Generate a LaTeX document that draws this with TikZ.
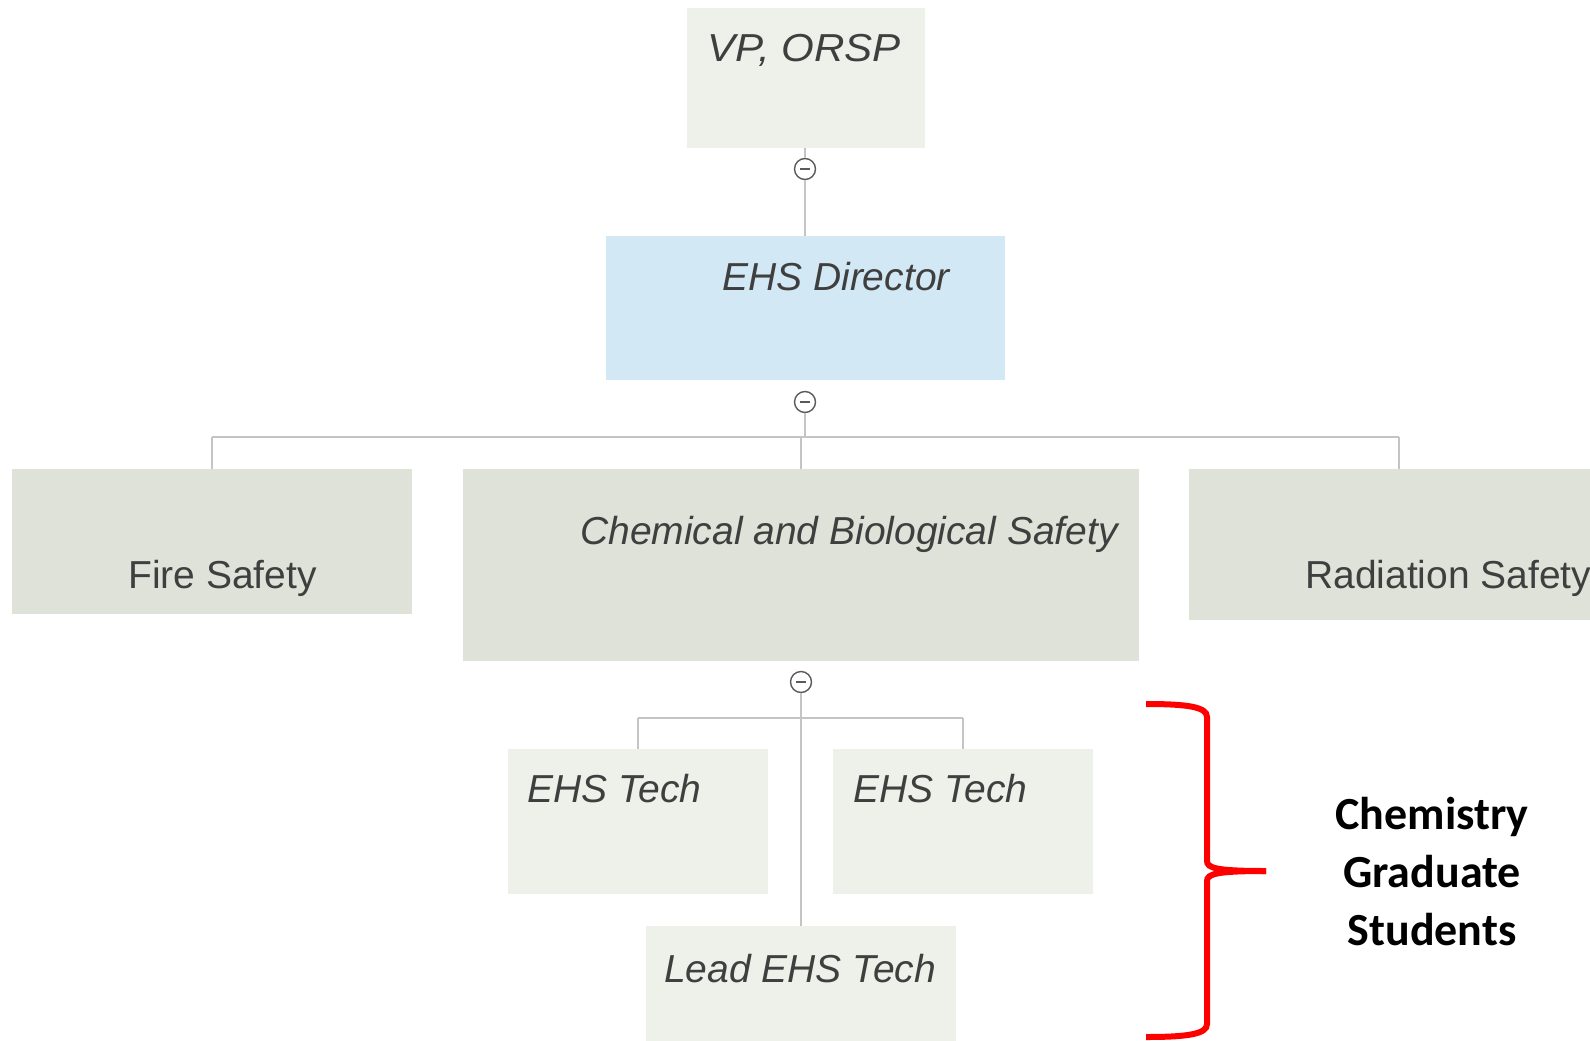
\documentclass[tikz,border=0pt]{standalone}
\usepackage{fontspec}
\setmainfont{Liberation Sans}
\newfontfamily\calib{Carlito}
\begin{document}
\begin{tikzpicture}[x=1pt,y=-1pt,
  box/.style={draw=none,rectangle,inner sep=0pt,anchor=north west},
  lbl/.style={anchor=base west,inner sep=0pt,text=txtgray,font=\fontsize{39}{44}\selectfont\itshape},
  lblu/.style={anchor=base west,inner sep=0pt,text=txtgray,font=\fontsize{39}{44}\selectfont},
  conn/.style={draw=linegray,line width=2pt},
  tog/.style={circle,draw=circgray,fill=white,line width=1.4pt,minimum size=21pt,inner sep=0pt}]
\definecolor{txtgray}{HTML}{3F3F3F}
\definecolor{linegray}{HTML}{C4C4C4}
\definecolor{circgray}{HTML}{5A5A5A}
\definecolor{lightbox}{HTML}{EEF0EA}
\definecolor{darkbox}{HTML}{DFE2D8}
\definecolor{bluebox}{HTML}{D2E8F5}
\definecolor{bracered}{HTML}{FF0000}
\useasboundingbox (0,0) rectangle (1590,1041);
\fill[white] (0,0) rectangle (1590,1041);

% boxes
\node[box,fill=lightbox,minimum width=238pt,minimum height=140pt] (vp) at (687,8) {};
\node[box,fill=bluebox,minimum width=399pt,minimum height=144pt] (dir) at (606,236) {};
\node[box,fill=darkbox,minimum width=400pt,minimum height=145pt] (fire) at (12,469) {};
\node[box,fill=darkbox,minimum width=676pt,minimum height=192pt] (chem) at (463,469) {};
\node[box,fill=darkbox,minimum width=401pt,minimum height=151pt] (rad) at (1189,469) {};
\node[box,fill=lightbox,minimum width=260pt,minimum height=145pt] (t1) at (508,749) {};
\node[box,fill=lightbox,minimum width=260pt,minimum height=145pt] (t2) at (833,749) {};
\node[box,fill=lightbox,minimum width=310pt,minimum height=115pt] (lead) at (646,926) {};

% labels
\node[lbl,xscale=1.08] (vpl) at (707,62) {VP, ORSP};
\node[lbl] (dirl) at (722,290) {EHS Director};
\node[lbl] (chel) at (580,544) {Chemical and Biological Safety};
\node[lblu] (firl) at (128,588) {Fire Safety};
\node[lblu] (radl) at (1305,588) {Radiation Safety};
\node[lbl] (t1l) at (527,802) {EHS Tech};
\node[lbl] (t2l) at (853,802) {EHS Tech};
\node[lbl] (leadl) at (664,982) {Lead EHS Tech};

% toggles
\node[tog] (c1) at (805,169) {};
\node[tog] (c2) at (805,402) {};
\node[tog] (c3) at (801,682) {};

% junction coordinates
\coordinate (j1) at (805,437);
\coordinate (jf) at (212,437);
\coordinate (jc) at (801,437);
\coordinate (jr) at (1399,437);
\coordinate (kl) at (638,718);
\coordinate (kr) at (963,718);

% connectors
\draw[conn] (vp.south -| c1) -- (c1.north);
\draw[conn] (c1.south) -- (c1 |- dir.north);
\draw[conn] (c2.south) -- (j1);
\draw[conn] (jf) -- (jr);
\draw[conn] (jf) -- (jf |- fire.north);
\draw[conn] (jc) -- (jc |- chem.north);
\draw[conn] (jr) -- (jr |- rad.north);
\draw[conn] (c3.south) -- (c3 |- lead.north);
\draw[conn] (kl) -- (kr);
\draw[conn] (kl) -- (kl |- t1.north);
\draw[conn] (kr) -- (kr |- t2.north);

% minus signs in toggles
\foreach \c in {c1,c2,c3}{
  \draw[circgray,line width=1.8pt] ([xshift=-5pt]\c.center) -- ([xshift=5pt]\c.center);
}

% brace
\draw[bracered,line width=6pt,line cap=butt]
  (1146,704) .. controls (1188,704) and (1207,707) .. (1207,717) -- (1207,861)
  .. controls (1207,868) and (1216,871) .. (1266,871);
\draw[bracered,line width=6pt,line cap=butt]
  (1146,1037) .. controls (1188,1037) and (1207,1034) .. (1207,1024) -- (1207,881)
  .. controls (1207,874) and (1216,871) .. (1266,871);

\node[align=center,font=\calib\bfseries\fontsize{46}{58}\selectfont,inner sep=0pt] (cgs) at (1432,872) {Chemistry\\Graduate\\Students};
\end{tikzpicture}
\end{document}
